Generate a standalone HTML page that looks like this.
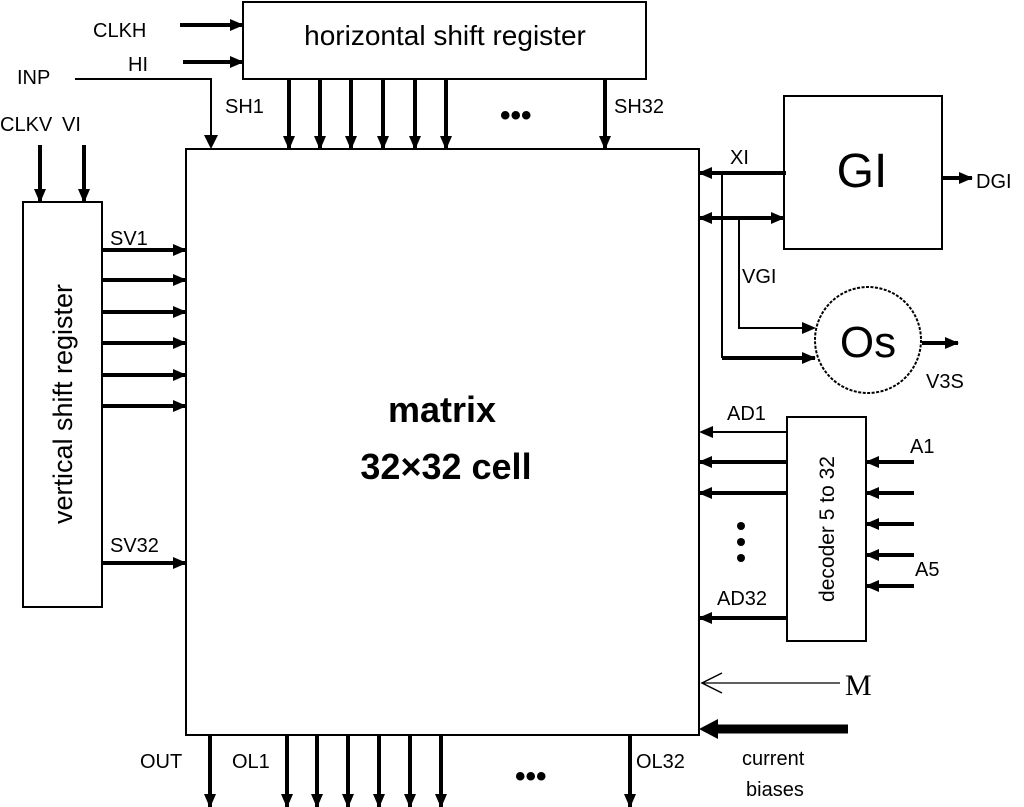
<!DOCTYPE html>
<html><head><meta charset="utf-8"><style>body{margin:0;background:#fff}svg{display:block}text{font-family:"Liberation Sans",sans-serif;fill:#000}</style></head><body>
<svg width="1024" height="807" viewBox="0 0 1024 807" xmlns="http://www.w3.org/2000/svg">
<defs>
<marker id="b" markerWidth="14" markerHeight="12" refX="13" refY="6" orient="auto" markerUnits="userSpaceOnUse"><path d="M0,0 L14,6 L0,12 Z" fill="#000"/></marker>
</defs>
<g fill="none" stroke="#000" stroke-width="2">
<rect x="186" y="149" width="513" height="586"/>
<rect x="243" y="2" width="403" height="77"/>
<rect x="23" y="202" width="79" height="405"/>
<rect x="784" y="96" width="158" height="153"/>
<rect x="787" y="417" width="79" height="224"/>
<circle cx="868" cy="340" r="53" stroke-dasharray="3,1.5"/>
</g>
<g stroke="#000" stroke-width="4" marker-end="url(#b)">
<line x1="180" y1="25" x2="243" y2="25"/>
<line x1="183" y1="62" x2="243" y2="62"/>
<line x1="289" y1="79" x2="289" y2="149"/><line x1="320" y1="79" x2="320" y2="149"/><line x1="351" y1="79" x2="351" y2="149"/><line x1="383" y1="79" x2="383" y2="149"/><line x1="415" y1="79" x2="415" y2="149"/><line x1="446" y1="79" x2="446" y2="149"/><line x1="605" y1="79" x2="605" y2="149"/>
<line x1="40" y1="145" x2="40" y2="202"/><line x1="84" y1="145" x2="84" y2="202"/>
<line x1="102" y1="250" x2="186" y2="250"/><line x1="102" y1="280" x2="186" y2="280"/><line x1="102" y1="312" x2="186" y2="312"/><line x1="102" y1="343" x2="186" y2="343"/><line x1="102" y1="375" x2="186" y2="375"/><line x1="102" y1="406" x2="186" y2="406"/><line x1="102" y1="563" x2="186" y2="563"/>
<line x1="210" y1="735" x2="210" y2="807"/><line x1="287" y1="735" x2="287" y2="807"/><line x1="317" y1="735" x2="317" y2="807"/><line x1="348" y1="735" x2="348" y2="807"/><line x1="379" y1="735" x2="379" y2="807"/><line x1="410" y1="735" x2="410" y2="807"/><line x1="441" y1="735" x2="441" y2="807"/><line x1="630" y1="735" x2="630" y2="807"/>
<line x1="787" y1="462" x2="699" y2="462"/><line x1="787" y1="493" x2="699" y2="493"/><line x1="787" y1="618" x2="699" y2="618"/>
<line x1="914" y1="462" x2="866" y2="462"/><line x1="914" y1="493" x2="866" y2="493"/><line x1="914" y1="524" x2="866" y2="524"/><line x1="914" y1="555" x2="866" y2="555"/><line x1="914" y1="586" x2="866" y2="586"/>
<line x1="786" y1="173" x2="699" y2="173"/>
<line x1="942" y1="178" x2="972" y2="178"/>
<line x1="922" y1="343" x2="958" y2="343"/>
<line x1="722" y1="358" x2="815" y2="358"/>
<line x1="722" y1="218" x2="784" y2="218"/>
<line x1="722" y1="218" x2="699" y2="218"/>
</g>
<g stroke="#000" stroke-width="2" fill="none">
<polyline points="75,79 211,79 211,136"/>
<polyline points="722,173 722,358"/>
<polyline points="739,218 739,328 804,328"/>
<line x1="787" y1="432" x2="710" y2="432"/>
<line x1="840" y1="683" x2="702" y2="683" stroke-width="1.2"/>
<polyline points="722,673 702,683 722,693" stroke-width="1.5"/>
</g>
<path d="M211,149 L204,135 L218,135 Z M816,328 L802,322 L802,334 Z M699,432 L713,426 L713,438 Z"/>
<line x1="848" y1="729" x2="712" y2="729" stroke="#000" stroke-width="9"/>
<path d="M699,729 L718,719 L718,739 Z"/>
<g font-size="20">
<text x="93" y="37">CLKH</text><text x="128" y="71">HI</text><text x="17" y="84">INP</text>
<text x="0" y="131">CLKV</text><text x="62" y="131">VI</text>
<text x="225" y="113">SH1</text><text x="614" y="113">SH32</text>
<text x="110" y="245">SV1</text><text x="110" y="552">SV32</text>
<text x="730" y="164">XI</text><text x="742" y="283">VGI</text><text x="976" y="188">DGI</text><text x="926" y="388">V3S</text>
<text x="727" y="420">AD1</text><text x="717" y="605">AD32</text><text x="910" y="453">A1</text><text x="915" y="576">A5</text>
<text x="140" y="768">OUT</text><text x="232" y="768">OL1</text><text x="636" y="768">OL32</text>
<text x="742" y="765">current</text><text x="746" y="796">biases</text>
</g>
<text x="445" y="45" font-size="28" text-anchor="middle">horizontal shift register</text>
<text x="0" y="0" font-size="27" text-anchor="middle" transform="translate(72,404) rotate(-90)">vertical shift register</text>
<text x="0" y="0" font-size="21" text-anchor="middle" transform="translate(834,529) rotate(-90)">decoder 5 to 32</text>
<text x="442" y="422" font-size="36" font-weight="bold" text-anchor="middle">matrix</text>
<text x="446" y="479" font-size="36" font-weight="bold" text-anchor="middle">32×32 cell</text>
<text x="862" y="187" font-size="48" text-anchor="middle">GI</text>
<text x="868" y="357" font-size="44" text-anchor="middle">Os</text>
<text x="845" y="695" font-size="30" style="font-family:'Liberation Serif',serif">M</text>
<g font-size="30" font-weight="bold"><text x="500" y="125">•••</text><text x="515" y="786">•••</text></g>
<g><circle cx="741" cy="526" r="4"/><circle cx="741" cy="542" r="4"/><circle cx="741" cy="558" r="4"/></g>
</svg>
</body></html>
